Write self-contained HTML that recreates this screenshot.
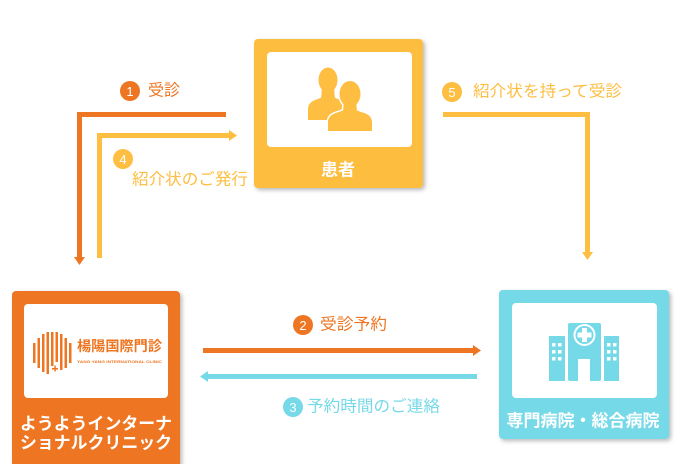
<!DOCTYPE html>
<html><head><meta charset="utf-8"><style>
html,body{margin:0;padding:0;background:#fff;}
svg{display:block;}
text{font-family:"Liberation Sans","Noto Sans CJK JP",sans-serif;}
</style></head><body>
<svg width="680" height="464" viewBox="0 0 680 464" xmlns="http://www.w3.org/2000/svg">
<defs>
<filter id="sh" x="-10%" y="-10%" width="130%" height="130%">
<feDropShadow dx="2" dy="2" stdDeviation="2" flood-color="#000" flood-opacity="0.28"/>
</filter>
</defs>

<!-- Patient box -->
<rect x="254" y="39" width="169" height="149" rx="4" fill="#FDBE41" filter="url(#sh)"/>
<rect x="267" y="52" width="145" height="95" rx="4" fill="#fff"/>
<g fill="#FDBE41">
<ellipse cx="328" cy="80" rx="9.5" ry="12.5"/>
<path d="M322,88 L334,88 L335,99 L321,99 Z"/>
<path d="M308,120 V110 C308,103 312,101 318,99 L323,97 L333,97 L338,99 C344,101 348,103 348,110 V120 Z"/>
</g>
<!-- front person white outline (union) -->
<g fill="#fff" stroke="#fff" stroke-width="3">
<path d="M328,131 V123 C328,116 332,114 339,112 L344,110 L356,110 L361,112 C368,114 372,116 372,123 V131 Z"/>
<path d="M344,100 L356,100 L357,112 L343,112 Z"/>
<ellipse cx="350" cy="94" rx="10.5" ry="13"/>
</g>
<g fill="#FDBE41">
<path d="M328,131 V123 C328,116 332,114 339,112 L344,110 L356,110 L361,112 C368,114 372,116 372,123 V131 Z"/>
<path d="M344,100 L356,100 L357,112 L343,112 Z"/>
<ellipse cx="350" cy="94" rx="10.5" ry="13"/>
</g>
<rect x="326" y="131" width="48" height="3" fill="#fff"/>
<text x="338" y="170" font-size="17" font-weight="bold" fill="#fff" text-anchor="middle" dominant-baseline="central">患者</text>

<!-- Clinic box -->
<rect x="12" y="291" width="168" height="176" rx="4" fill="#EE7623" filter="url(#sh)"/>
<rect x="24" y="304" width="144" height="94" rx="4" fill="#fff"/>
<g fill="#EE7623">
<rect x="33" y="343" width="2.5" height="20"/>
<rect x="37.5" y="338" width="2.5" height="30"/>
<rect x="42" y="334" width="2.5" height="38"/>
<rect x="46.5" y="332" width="2.5" height="42"/>
<rect x="51" y="332" width="2.5" height="34"/>
<rect x="55.5" y="332" width="2.5" height="30"/>
<rect x="60" y="334" width="2.5" height="36"/>
<rect x="64.5" y="338" width="2.5" height="30"/>
<rect x="69" y="343" width="2.5" height="20"/>
<rect x="52" y="368" width="6" height="1.5"/>
<rect x="54.3" y="365.5" width="1.5" height="6"/>
</g>
<text x="77" y="346" font-size="14" font-weight="bold" fill="#EE7623" dominant-baseline="central" textLength="85" lengthAdjust="spacingAndGlyphs">楊陽国際門診</text>
<text x="77" y="363" font-size="4" font-weight="bold" fill="#EE7623" textLength="85" lengthAdjust="spacingAndGlyphs">YANG YANG INTERNATIONAL CLINIC</text>
<text x="96" y="424" font-size="17" font-weight="bold" fill="#fff" text-anchor="middle" dominant-baseline="central" textLength="152" lengthAdjust="spacingAndGlyphs">ようようインターナ</text>
<text x="96" y="443" font-size="17" font-weight="bold" fill="#fff" text-anchor="middle" dominant-baseline="central" textLength="152" lengthAdjust="spacingAndGlyphs">ショナルクリニック</text>

<!-- Hospital box -->
<rect x="499" y="290" width="170" height="149" rx="4" fill="#76D9E8" filter="url(#sh)"/>
<rect x="512" y="303" width="145" height="95" rx="4" fill="#fff"/>
<g fill="#76D9E8">
<rect x="549" y="336" width="16" height="45"/>
<rect x="604" y="336" width="15" height="45"/>
<rect x="568" y="323" width="33" height="58" rx="2"/>
</g>
<circle cx="584.5" cy="335" r="11" fill="#fff"/>
<circle cx="584.5" cy="335" r="9" fill="#76D9E8"/>
<rect x="582" y="328" width="5" height="14" fill="#fff"/>
<rect x="577.5" y="332.5" width="14" height="5" fill="#fff"/>
<rect x="578" y="359" width="12" height="22" fill="#fff"/>
<g fill="#fff">
<rect x="552" y="343" width="3.5" height="3.5"/><rect x="558" y="343" width="3.5" height="3.5"/>
<rect x="552" y="350" width="3.5" height="3.5"/><rect x="558" y="350" width="3.5" height="3.5"/>
<rect x="552" y="357" width="3.5" height="3.5"/><rect x="558" y="357" width="3.5" height="3.5"/>
<rect x="607" y="343" width="3.5" height="3.5"/><rect x="613" y="343" width="3.5" height="3.5"/>
<rect x="607" y="350" width="3.5" height="3.5"/><rect x="613" y="350" width="3.5" height="3.5"/>
<rect x="607" y="357" width="3.5" height="3.5"/><rect x="613" y="357" width="3.5" height="3.5"/>
</g>
<text x="583" y="421" font-size="17" font-weight="bold" fill="#fff" text-anchor="middle" dominant-baseline="central" textLength="153" lengthAdjust="spacingAndGlyphs">専門病院・総合病院</text>

<!-- Connector 1 (orange) -->
<path d="M226,114.5 H79.5 V258" fill="none" stroke="#EE7623" stroke-width="5"/>
<polygon points="74,257 85,257 79.5,265" fill="#EE7623"/>
<circle cx="130" cy="91" r="10" fill="#EE7623"/>
<text x="130" y="91.5" font-size="13" fill="#fff" text-anchor="middle" dominant-baseline="central">1</text>
<text x="148" y="91" font-size="16" fill="#EE7623" dominant-baseline="central" textLength="32" lengthAdjust="spacingAndGlyphs">受診</text>

<!-- Connector 4 (yellow) -->
<path d="M99.5,258 V135.5 H230" fill="none" stroke="#FDBE41" stroke-width="5"/>
<polygon points="229,130 229,141 237,135.5" fill="#FDBE41"/>
<circle cx="123" cy="159" r="10" fill="#FDBE41"/>
<text x="123" y="159.5" font-size="13" fill="#fff" text-anchor="middle" dominant-baseline="central">4</text>
<text x="132" y="180" font-size="16" fill="#FDBE41" dominant-baseline="central" textLength="116" lengthAdjust="spacingAndGlyphs">紹介状のご発行</text>

<!-- Connector 5 (yellow) -->
<path d="M443,114.5 H587.5 V253" fill="none" stroke="#FDBE41" stroke-width="5"/>
<polygon points="582,252 593,252 587.5,260" fill="#FDBE41"/>
<circle cx="452" cy="92" r="10" fill="#FDBE41"/>
<text x="452" y="92.5" font-size="13" fill="#fff" text-anchor="middle" dominant-baseline="central">5</text>
<text x="473" y="92" font-size="16" fill="#FDBE41" dominant-baseline="central" textLength="149" lengthAdjust="spacingAndGlyphs">紹介状を持って受診</text>

<!-- Connector 2 (orange) -->
<path d="M203,350.5 H474" fill="none" stroke="#EE7623" stroke-width="5"/>
<polygon points="473,345 473,356 481,350.5" fill="#EE7623"/>
<circle cx="303" cy="325" r="10" fill="#EE7623"/>
<text x="303" y="325.5" font-size="13" fill="#fff" text-anchor="middle" dominant-baseline="central">2</text>
<text x="320" y="325" font-size="16" fill="#EE7623" dominant-baseline="central" textLength="67" lengthAdjust="spacingAndGlyphs">受診予約</text>

<!-- Connector 3 (cyan) -->
<path d="M477,376.5 H207" fill="none" stroke="#76D9E8" stroke-width="5"/>
<polygon points="208,371 208,382 200,376.5" fill="#76D9E8"/>
<circle cx="293" cy="407" r="10" fill="#76D9E8"/>
<text x="293" y="407.5" font-size="13" fill="#fff" text-anchor="middle" dominant-baseline="central">3</text>
<text x="307" y="407" font-size="16" fill="#76D9E8" dominant-baseline="central" textLength="133" lengthAdjust="spacingAndGlyphs">予約時間のご連絡</text>
</svg>
</body></html>
